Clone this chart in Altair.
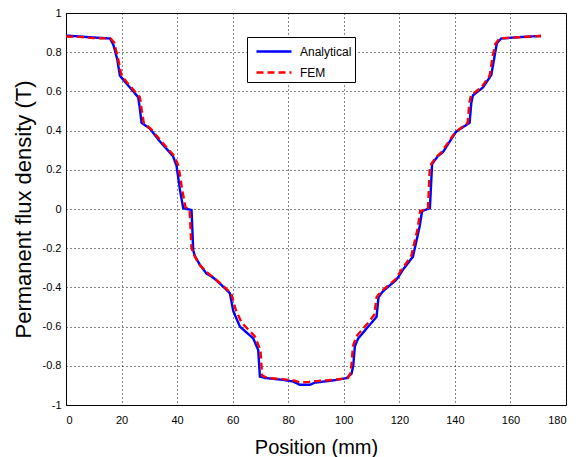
import altair as alt
import pandas as pd

# Analytical curve (x in mm, B in T)
ana_x = [0, 5, 10, 15.8, 17, 17.6, 18.5, 19.4, 21.2, 23.6, 26, 26.6, 27.2, 30.2, 33.5, 38.5,
         39.8, 41, 42.2, 45.2, 45.8, 46.4, 48.2, 50.6, 53, 55.4, 59, 60.2, 62.6, 67.4, 69.2,
         69.8, 71.6, 78.2, 81.7, 84.2, 87.8, 89.6, 96, 101, 102.8, 103.4, 104, 105.2, 109.4,
         111.8, 112.5, 114.1, 119, 121.3, 124.9, 127.3, 128.2, 131, 131.8, 133.9, 135.7,
         139.3, 140.5, 145.3, 145.9, 146.5, 150.1, 153.1, 154.3, 155.1, 156.7, 163.3, 171]
ana_y = [0.885, 0.88, 0.875, 0.87, 0.84, 0.81, 0.76, 0.68, 0.65, 0.61, 0.57, 0.51, 0.44, 0.41,
         0.35, 0.27, 0.22, 0.10, 0.004, -0.005, -0.21, -0.24, -0.285, -0.33, -0.35, -0.38,
         -0.43, -0.52, -0.60, -0.66, -0.72, -0.855, -0.862, -0.872, -0.88, -0.897, -0.897,
         -0.886, -0.875, -0.863, -0.84, -0.80, -0.70, -0.66, -0.59, -0.55, -0.45, -0.42,
         -0.36, -0.31, -0.243, -0.09, -0.01, 0.004, 0.23, 0.27, 0.29, 0.37, 0.395, 0.44,
         0.54, 0.58, 0.62, 0.684, 0.78, 0.846, 0.87, 0.877, 0.883]

# FEM curve
fem_x = [0, 5, 10, 16, 17.3, 18.2, 19, 20, 22, 24.2, 26.6, 27.3, 28, 30.8, 34, 39, 40.5, 41.8,
         43, 44.5, 45.2, 46, 47.8, 50.5, 54, 56, 59.5, 61, 63.2, 68, 70, 70.6, 72.5, 78, 82,
         84.5, 87.5, 90, 96, 101.5, 102.3, 102.8, 103.3, 104.5, 108.8, 111, 111.8, 113.5,
         118.5, 120.8, 124.3, 126.6, 127.5, 130.3, 131, 133.3, 135.2, 138.8, 140, 144.6,
         145.2, 145.8, 149.5, 152.5, 153.6, 154.5, 156, 163, 171]
fem_y = [0.88, 0.878, 0.872, 0.87, 0.85, 0.80, 0.75, 0.68, 0.645, 0.61, 0.57, 0.50, 0.44,
         0.405, 0.35, 0.27, 0.22, 0.10, 0.01, -0.005, -0.20, -0.23, -0.28, -0.32, -0.36,
         -0.385, -0.43, -0.51, -0.58, -0.65, -0.72, -0.85, -0.862, -0.868, -0.875, -0.885,
         -0.882, -0.878, -0.872, -0.862, -0.84, -0.79, -0.70, -0.65, -0.58, -0.54, -0.45,
         -0.42, -0.36, -0.31, -0.24, -0.10, -0.01, 0.0, 0.22, 0.265, 0.29, 0.365, 0.39, 0.44,
         0.54, 0.58, 0.62, 0.68, 0.78, 0.84, 0.87, 0.876, 0.883]

series = ["Analytical", "FEM"]
x_ticks = [0, 20, 40, 60, 80, 100, 120, 140, 160, 180]
y_ticks = [-1, -0.8, -0.6, -0.4, -0.2, 0, 0.2, 0.4, 0.6, 0.8, 1]

df = pd.concat([
    pd.DataFrame({"x": ana_x, "y": ana_y, "s": series[0], "o": range(len(ana_x))}),
    pd.DataFrame({"x": fem_x, "y": fem_y, "s": series[1], "o": range(len(fem_x))}),
])

FONT = "Liberation Sans"
leg = dict(title=None, orient="none", legendX=181, legendY=24)

chart = alt.Chart(df).mark_line(strokeWidth=2.4).encode(
    x=alt.X("x:Q", scale=alt.Scale(domain=[0, 180], nice=False),
            axis=alt.Axis(values=x_ticks, title="Position (mm)", format="d",
                          titlePadding=12, labelPadding=9)),
    y=alt.Y("y:Q", scale=alt.Scale(domain=[-1, 1], nice=False),
            axis=alt.Axis(values=y_ticks, title="Permanent flux density (T)",
                          labelExpr="replace(format(datum.value, '~g'), '\u2212', '-')",
                          titlePadding=7, labelPadding=5, titleFontSize=22)),
    color=alt.Color("s:N", scale=alt.Scale(domain=series, range=["#0000FF", "#FF0000"]),
                    legend=alt.Legend(**leg)),
    strokeDash=alt.StrokeDash("s:N", scale=alt.Scale(domain=series, range=[[1, 0], [7, 4]]),
                              legend=alt.Legend(**leg)),
    order="o:Q",
).properties(
    width=500, height=392,
    autosize=alt.AutoSizeParams(type="none"),
    padding={"left": 58, "top": 5, "right": 4, "bottom": 52},
).configure_view(
    stroke="black", strokeWidth=1
).configure_axis(
    grid=True, gridColor="#111111", gridDash=[1, 3], gridOpacity=1, gridWidth=1,
    domainColor="black", ticks=False,
    labelFont=FONT, labelFontSize=11, labelColor="black",
    titleFont=FONT, titleFontSize=20, titleFontWeight="normal", titleColor="black",
).configure_legend(
    strokeColor="black", fillColor="white", padding=3, rowPadding=3,
    symbolType="M-0.5,0H3", symbolSize=400, symbolStrokeWidth=2.4,
    labelFont=FONT, labelFontSize=12, labelColor="black", labelOffset=27,
)

chart.save("out.html", embed_options={"renderer": "svg", "actions": False})
